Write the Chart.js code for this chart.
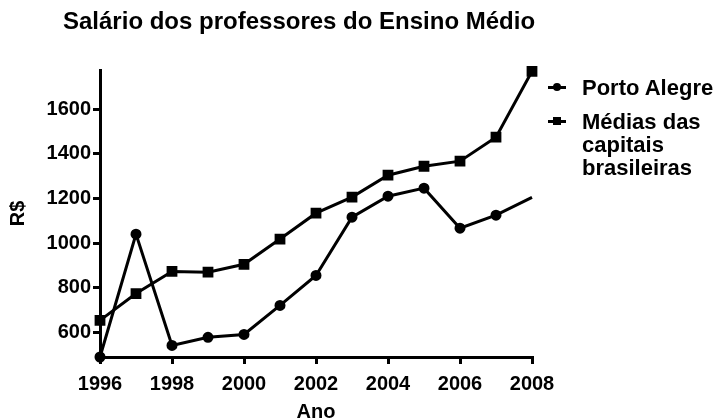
<!DOCTYPE html>
<html>
<head>
<meta charset="utf-8">
<script src="https://cdn.jsdelivr.net/npm/chart.js@4/dist/chart.umd.min.js"></script>
<style>
  body { margin: 0; background: #fff; }
  #wrap { position: relative; width: 718px; height: 420px; font-family: "Liberation Sans", Arial, sans-serif; font-weight: bold; color: #000; }
  canvas { position: absolute; left: 0; top: 0; }
  #titulo { position: absolute; left: 63px; top: 7px; font-size: 24px; line-height: 28px; white-space: nowrap; }
  .leg { position: absolute; left: 582px; font-size: 22px; line-height: 23px; white-space: nowrap; }
  .linha { position: absolute; left: 548px; width: 18px; height: 3px; background: #000; }
  .marca { position: absolute; left: 553px; width: 8px; height: 8px; background: #000; }
</style>
</head>
<body>
<div id="wrap">
  <canvas id="grafico" width="718" height="420"></canvas>
  <div id="titulo">Salário dos professores do Ensino Médio</div>
  <div class="linha" style="top:86px"></div>
  <div class="marca" style="top:83px;border-radius:50%"></div>
  <div class="leg" style="top:76px">Porto Alegre</div>
  <div class="linha" style="top:120px"></div>
  <div class="marca" style="top:117px"></div>
  <div class="leg" style="top:110px">Médias das<br>capitais<br>brasileiras</div>
</div>
<script>
const anos = [1996, 1997, 1998, 1999, 2000, 2001, 2002, 2003, 2004, 2005, 2006, 2007, 2008];
const portoAlegre = [490, 1040, 542, 578, 591, 721, 855, 1116, 1210, 1246, 1067, 1125, 1205];
const mediasCapitais = [654, 774, 873, 870, 905, 1018, 1134, 1206, 1304, 1344, 1367, 1474, 1769];
const ticksX = [1996, 1998, 2000, 2002, 2004, 2006, 2008];
const ticksY = [600, 800, 1000, 1200, 1400, 1600];

const fonte = { family: "'Liberation Sans', Arial, sans-serif", weight: "bold", size: 20 };

const ctx = document.getElementById("grafico").getContext("2d");
const chart = new Chart(ctx, {
  type: "line",
  data: {
    datasets: [
      {
        label: "Porto Alegre",
        data: anos.map((a, i) => ({ x: a, y: portoAlegre[i] })),
        borderColor: "#000",
        backgroundColor: "#000",
        borderWidth: 3,
        pointStyle: "circle",
        pointRadius: anos.map((a, i) => (i === anos.length - 1 ? 0 : 4)),
        tension: 0
      },
      {
        label: "Médias das capitais brasileiras",
        data: anos.map((a, i) => ({ x: a, y: mediasCapitais[i] })),
        borderColor: "#000",
        backgroundColor: "#000",
        borderWidth: 3,
        pointStyle: "rect",
        pointRadius: 5.5,
        tension: 0
      }
    ]
  },
  options: {
    responsive: false,
    animation: false,
    clip: false,
    layout: { padding: { top: 70, right: 186, left: 0, bottom: 0 } },
    plugins: { legend: { display: false }, tooltip: { enabled: false } },
    scales: {
      x: {
        type: "linear",
        min: 1996,
        max: 2008,
        afterBuildTicks: axis => { axis.ticks = ticksX.map(v => ({ value: v })); },
        afterFit: axis => { axis.height = 63; },
        border: { color: "#000", width: 3 },
        grid: { drawOnChartArea: false, color: "#000", lineWidth: 3, tickLength: 7 },
        ticks: { color: "#000", font: fonte, padding: 8, maxRotation: 0, callback: v => String(v) },
        title: { display: true, text: "Ano", color: "#000", font: { ...fonte, lineHeight: 0.8 }, padding: 0 }
      },
      y: {
        min: 490,
        max: 1775,
        afterBuildTicks: axis => { axis.ticks = ticksY.map(v => ({ value: v })); },
        afterFit: axis => { axis.width = 100; },
        border: { color: "#000", width: 3 },
        grid: { drawOnChartArea: false, color: "#000", lineWidth: 3, tickLength: 7 },
        ticks: { color: "#000", font: fonte, padding: 2, callback: v => String(v) },
        title: { display: true, text: "R$", color: "#000", font: fonte, padding: 6 }
      }
    }
  }
});
</script>
</body>
</html>
